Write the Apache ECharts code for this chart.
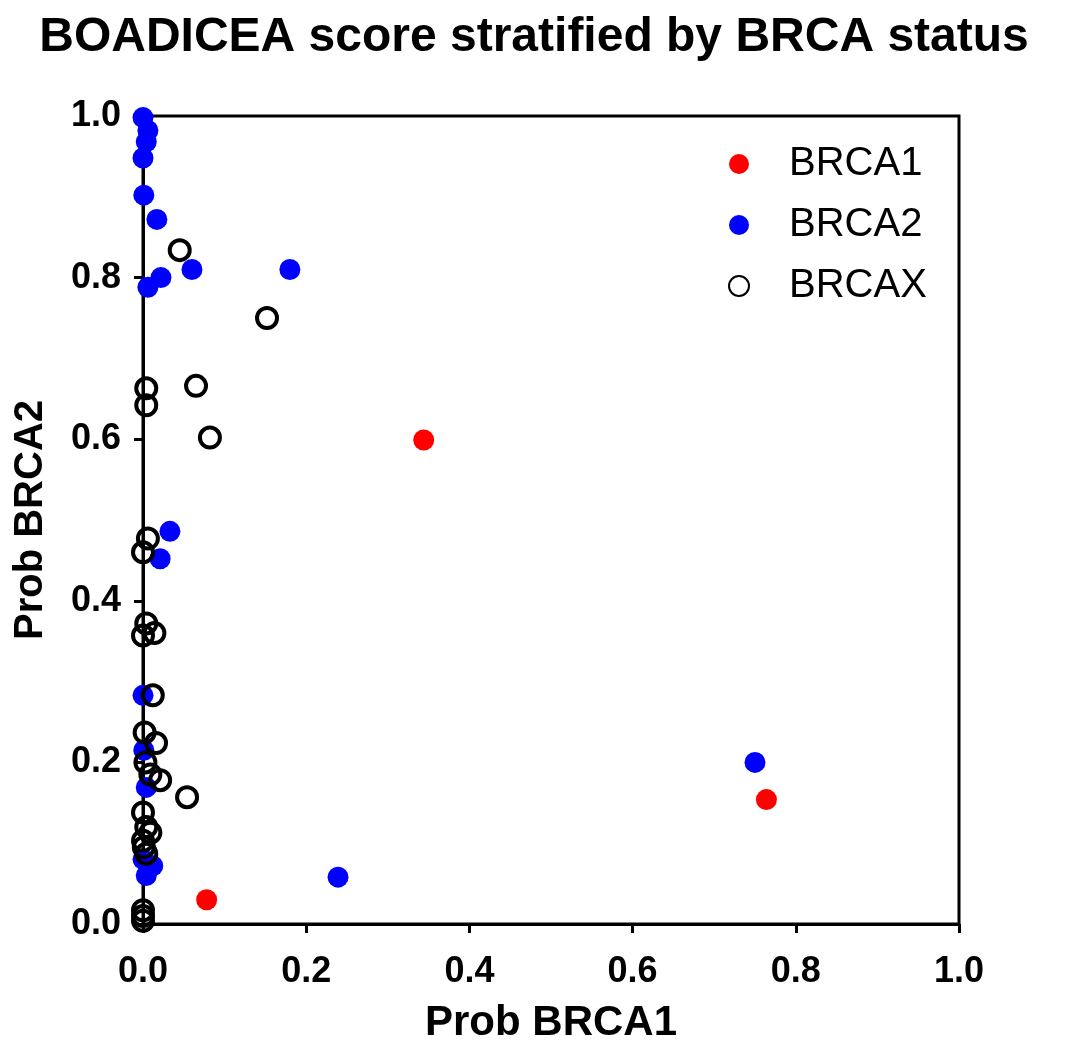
<!DOCTYPE html>
<html>
<head>
<meta charset="utf-8">
<script src="https://cdn.jsdelivr.net/npm/echarts@6/dist/echarts.min.js"></script>
<style>
  html, body { margin: 0; padding: 0; background: #fff; }
  #chart { width: 1068px; height: 1044px; }
</style>
</head>
<body>
<div id="chart"></div>
<script>
// Probability of carrying a BRCA1 / BRCA2 mutation per patient, [probBRCA1, probBRCA2]
const brca1Points = [
  [0.344, 0.599], [0.764, 0.154], [0.078, 0.030]
];
const brca2Points = [
  [0.000, 0.998], [0.006, 0.982], [0.004, 0.968], [0.000, 0.948], [0.001, 0.902],
  [0.017, 0.872], [0.022, 0.800], [0.006, 0.788], [0.060, 0.810], [0.180, 0.810],
  [0.033, 0.486], [0.021, 0.452], [0.000, 0.283], [0.001, 0.215], [0.004, 0.169],
  [0.012, 0.072], [0.004, 0.060], [0.000, 0.080], [0.750, 0.200], [0.239, 0.058]
];
const brcaxPoints = [
  [0.045, 0.834], [0.152, 0.750], [0.065, 0.666], [0.082, 0.602], [0.004, 0.663],
  [0.004, 0.642], [0.006, 0.477], [0.000, 0.460], [0.004, 0.372], [0.014, 0.360],
  [0.000, 0.357], [0.012, 0.283], [0.002, 0.237], [0.016, 0.224], [0.003, 0.200],
  [0.021, 0.178], [0.054, 0.157], [0.009, 0.185], [0.000, 0.138], [0.004, 0.120],
  [0.009, 0.113], [0.000, 0.103], [0.001, 0.095], [0.004, 0.087], [0.000, 0.017],
  [0.000, 0.010], [0.000, 0.004]
];
const seriesNames = ['BRCA1', 'BRCA2', 'BRCAX'];
const axisTicks = [0, 0.2, 0.4, 0.6, 0.8, 1.0];

const FONT = '"Liberation Sans", Arial, sans-serif';
const chart = echarts.init(document.getElementById('chart'));

const axisCommon = {
  type: 'value',
  min: axisTicks[0],
  max: axisTicks[axisTicks.length - 1],
  interval: 0.2,
  nameLocation: 'middle',
  nameTextStyle: { fontFamily: FONT, fontWeight: 'bold', fontSize: 42, color: '#000' },
  axisLine: { show: true, lineStyle: { color: '#000', width: 3 } },
  axisTick: { show: true, length: 9, lineStyle: { color: '#000', width: 3 } },
  axisLabel: {
    fontFamily: FONT, fontWeight: 'bold', fontSize: 36, color: '#000',
    formatter: v => v.toFixed(1)
  },
  splitLine: { show: false }
};

chart.setOption({
  animation: false,
  backgroundColor: '#fff',
  title: {
    text: 'BOADICEA score stratified by BRCA status',
    left: 'center',
    top: 9,
    textStyle: { fontFamily: FONT, fontWeight: 'bold', fontSize: 48, color: '#000' }
  },
  grid: {
    left: 143, right: 109, top: 116, bottom: 120,
    outerBoundsMode: 'none',
    show: true, borderColor: '#000', borderWidth: 3, backgroundColor: 'transparent'
  },
  legend: {
    orient: 'vertical',
    left: 723,
    top: 139,
    itemWidth: 20,
    itemHeight: 20,
    itemGap: 21,
    icon: 'circle',
    textStyle: { fontFamily: FONT, fontSize: 40, color: '#000', padding: [0, 0, 0, 35] },
    data: seriesNames
  },
  xAxis: Object.assign({}, axisCommon, {
    name: 'Prob BRCA1',
    nameGap: 78,
    axisLabel: Object.assign({}, axisCommon.axisLabel, { margin: 30 })
  }),
  yAxis: Object.assign({}, axisCommon, {
    name: 'Prob BRCA2',
    nameGap: 92,
    nameTextStyle: Object.assign({}, axisCommon.nameTextStyle, { fontSize: 40 }),
    axisLabel: Object.assign({}, axisCommon.axisLabel, { margin: 22 })
  }),
  series: [
    {
      name: seriesNames[0], type: 'scatter', data: brca1Points,
      symbol: 'circle', symbolSize: 21,
      itemStyle: { color: '#ff0000', opacity: 1 }
    },
    {
      name: seriesNames[1], type: 'scatter', data: brca2Points,
      symbol: 'circle', symbolSize: 21,
      itemStyle: { color: '#0000ff', opacity: 1 }
    },
    {
      name: seriesNames[2], type: 'scatter', data: brcaxPoints,
      symbol: 'circle', symbolSize: 20,
      itemStyle: { color: 'rgba(0,0,0,0)', borderColor: '#000', borderWidth: 4, opacity: 1 }
    }
  ]
});
</script>
</body>
</html>
